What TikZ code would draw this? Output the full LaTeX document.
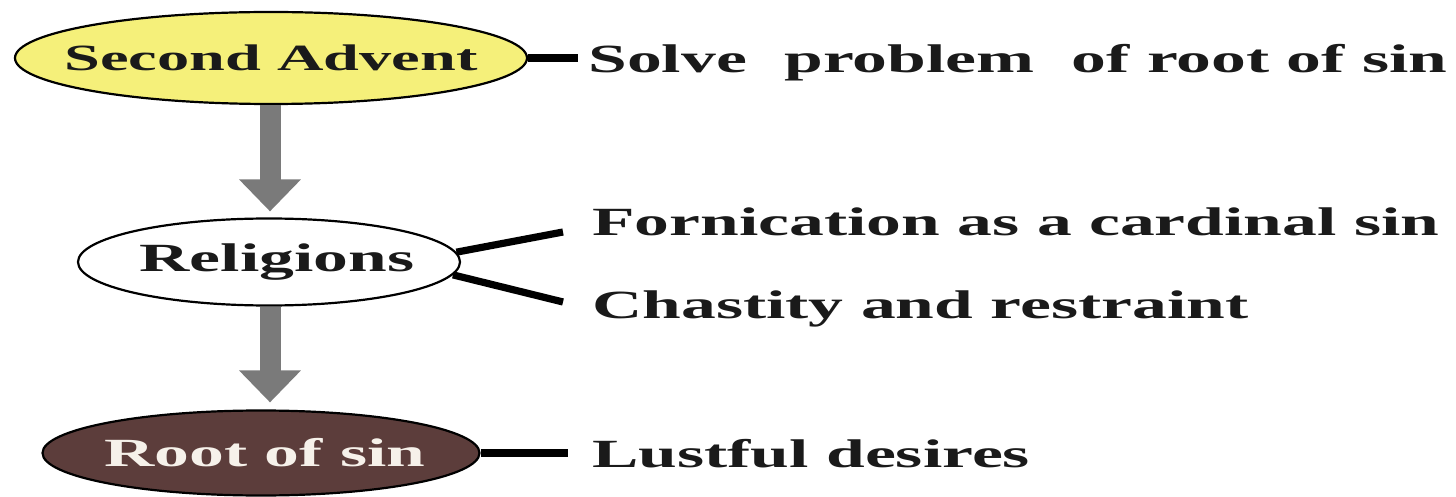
\documentclass[tikz,border=0pt]{standalone}
\usepackage{fontspec}
\setmainfont{Liberation Serif}[FakeStretch=1.74]
\usetikzlibrary{shapes.geometric,arrows.meta}
\definecolor{advyellow}{HTML}{F5F07A}
\definecolor{rootbrown}{HTML}{5C3D3B}
\definecolor{rootcream}{HTML}{F6F1EA}
\definecolor{arrowgray}{HTML}{7A7A7A}
\definecolor{txt}{HTML}{1A1A1A}
\tikzset{
  oval/.style={ellipse, draw=black, line width=1.1pt, inner sep=0pt, text=txt,
    font=\bfseries\fontsize{20pt}{24pt}\selectfont},
  label text/.style={anchor=base west, inner sep=0pt, text=txt,
    font=\bfseries\fontsize{20pt}{24pt}\selectfont},
  flow/.style={draw=arrowgray, line width=10.5pt,
    -{Triangle[width=30pt,length=16pt,fill=arrowgray]}},
  link/.style={draw=black, line width=3.6pt}
}
\begin{document}
\begin{tikzpicture}[x=0.5pt,y=-0.5pt]
\useasboundingbox (0,0) rectangle (1456,497);
\fill[white] (0,0) rectangle (1456,497);

\node[oval, fill=advyellow, minimum width=256pt, minimum height=46pt,
  font=\bfseries\fontsize{18.5pt}{22pt}\selectfont] (sa) at (271,58) {\makebox[0pt]{Second Advent}};
\node[oval, fill=white, minimum width=191pt, minimum height=43.5pt] (rel) at (269,262) {\makebox[0pt]{\hspace{8pt}Religions}};
\node[oval, fill=rootbrown, text=rootcream, minimum width=218.5pt, minimum height=42.5pt] (root) at (261,453) {\makebox[0pt]{\hspace{4pt}Root of sin}};

\node[label text] (solve) at (588,73) {Solve\hspace{10pt} problem\hspace{10pt} of root of sin};
\node[label text] (forn) at (592,236) {Fornication as a cardinal sin};
\node[label text] (chas) at (592,318) {Chastity and restraint};
\node[label text] (lust) at (592,467) {Lustful desires};

\coordinate (saend) at (578,58);
\coordinate (fend) at (563,232);
\coordinate (cend) at (563,302);
\coordinate (lend) at (568,453);

\draw[link] (sa.east) -- (saend);
\draw[link] (rel.3) -- (fend);
\draw[link] (rel.-4) -- (cend);
\draw[link] (root.east) -- (lend);

\coordinate (a1end) at (rel.north -| 270,0);
\coordinate (a2end) at (root.north -| 270,0);
\draw[flow, shorten >=3pt] (sa.south -| 270,0) -- (a1end);
\draw[flow, shorten >=3.5pt] (rel.south -| 270,0) -- (a2end);
\end{tikzpicture}
\end{document}
